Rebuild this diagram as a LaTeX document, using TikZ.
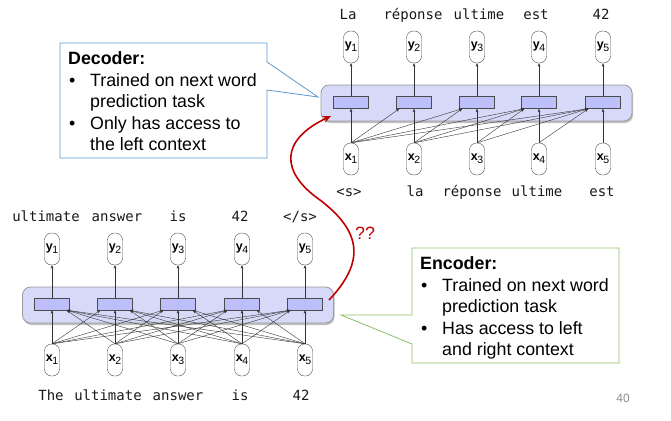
\documentclass[tikz,border=0pt]{standalone}
\usepackage{fontspec}
\setmainfont{Liberation Sans}
\setmonofont{DejaVu Sans Mono}
\usetikzlibrary{arrows.meta,shadows}
\definecolor{bandfill}{HTML}{D6DAF8}
\definecolor{cellfill}{HTML}{BDBFFB}
\definecolor{decblue}{HTML}{5B9BD5}
\definecolor{encgreen}{HTML}{8CBF64}
\definecolor{curvered}{HTML}{C00000}
\newcommand{\vecsub}[2]{\textbf{#1}\kern-0.3pt\raisebox{-3pt}{\fontsize{10.5}{10.5}\selectfont #2}}
\tikzset{
  word/.style={rounded corners=7pt, draw=black!70, fill=white, minimum width=15pt,
    minimum height=32pt, inner sep=0pt, font=\fontsize{12.5}{12.5}\selectfont},
  cell/.style={draw=black!70, fill=cellfill, minimum width=35pt, minimum height=12pt, inner sep=0pt},
  band/.style={rounded corners=8pt, draw=black!40, line width=0.8pt, fill=bandfill,
    minimum width=311pt, minimum height=36pt, inner sep=0pt,
    drop shadow={opacity=0.5, shadow xshift=1pt, shadow yshift=-2pt}},
  tok/.style={anchor=base, inner sep=0pt, text=black!90, font=\ttfamily\fontsize{14}{14}\selectfont},
  link/.style={-{Stealth[length=3.5pt,width=2.8pt]}, black!80, line width=0.4pt},
  callout/.style={anchor=north west, inner sep=0pt, align=left, font=\fontsize{17.8}{21.5}\selectfont}
}
\newcommand{\bul}{\hspace*{1pt}\makebox[21pt][l]{•}}
\newcommand{\ind}{\hspace*{22pt}}
\begin{document}
\begin{tikzpicture}[x=1pt,y=-1pt]
\useasboundingbox (0,0) rectangle (671,420);

\node[band] (encband) at (178,305) {};
\node[band] (decband) at (476.5,103) {};

\foreach \c [count=\i] in {52,115,178,242,305}{
  \node[word] (ey\i) at (\c,249) {\vecsub{y}{\i}};
  \node[cell] (eh\i) at (\c,304) {};
  \node[word] (ex\i) at (\c,360) {\vecsub{x}{\i}};
  \draw[link] (eh\i) -- (ey\i);
}
\foreach \c [count=\i] in {351,414,477,539,603}{
  \node[word] (dy\i) at (\c,47) {\vecsub{y}{\i}};
  \node[cell] (dh\i) at (\c,102.5) {};
  \node[word] (dx\i) at (\c,159) {\vecsub{x}{\i}};
  \draw[link] (dh\i) -- (dy\i);
}

\foreach \i in {1,...,5}
  \foreach \j in {1,...,5}{
    \ifnum\i<\j \draw[link] (ex\i.north) -- ([xshift=3pt]eh\j.south west);
    \else\ifnum\i>\j \draw[link] (ex\i.north) -- ([xshift=-3pt]eh\j.south east);
    \else \draw[link] (ex\i) -- (eh\j);
    \fi\fi
  }
\foreach \i in {1,...,5}
  \foreach \j in {\i,...,5}{
    \ifnum\i<\j \draw[link] (dx\i.north) -- ([xshift=3pt]dh\j.south west);
    \else \draw[link] (dx\i) -- (dh\j);
    \fi
  }

\foreach \c/\t [count=\i] in {46/ultimate,117/answer,178/is,240/42,300/{</s>}}
  \node[tok] (etop\i) at (\c,221) {\t};
\foreach \c/\t [count=\i] in {51/The,108/ultimate,178/answer,240/is,301/42}
  \node[tok] (ebot\i) at (\c,400) {\t};
\foreach \c/\t [count=\i] in {348/La,413/réponse,479/ultime,536/est,601/42}
  \node[tok] (dtop\i) at (\c,20) {\t};
\foreach \c/\t [count=\i] in {349/{<s>},415/la,472/réponse,537/ultime,602/est}
  \node[tok] (dbot\i) at (\c,196) {\t};

\draw[decblue, line width=0.8pt, fill=white] (60,43) -- (267,43) -- (267,62) -- (318,97)
  -- (267,90) -- (267,158) -- (60,158) -- cycle;
\node[callout] (dectext) at (68,51.5) {\textbf{Decoder:}\\
  \bul Trained on next word\\ \ind prediction task\\
  \bul Only has access to\\ \ind the left context};

\draw[encgreen, line width=0.8pt, fill=white] (412,248) -- (619,248) -- (619,363) -- (412,363)
  -- (412,344) -- (341,315) -- (412,315) -- cycle;
\node[callout] (enctext) at (420,256.5) {\textbf{Encoder:}\\
  \bul Trained on next word\\ \ind prediction task\\
  \bul Has access to left\\ \ind and right context};

\coordinate (redstart) at (329,300);
\coordinate (redend) at (331,116);
\draw[curvered, line width=1.6pt, -{Stealth[length=8pt,width=7pt]}] (redstart)
  .. controls (365,262) and (362,232) .. (320,200)
  .. controls (280,172) and (280,140) .. (redend);
\node[text=curvered, font=\fontsize{17.8}{17.8}\selectfont] (qq) at (365,233) {??};

\node[text=black!45, font=\fontsize{12}{12}\selectfont] (page) at (623,398) {40};
\end{tikzpicture}
\end{document}
